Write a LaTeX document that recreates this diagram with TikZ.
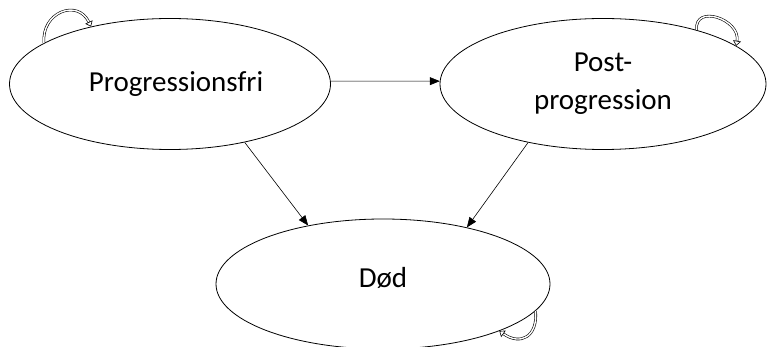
\documentclass[tikz,border=0pt]{standalone}
\usepackage{fontspec}
\setmainfont{Carlito}
\usetikzlibrary{shapes.geometric, arrows.meta, positioning}

\begin{document}
\begin{tikzpicture}[x=1pt, y=-1pt,
            st/.style={ellipse, draw=black, thick, inner sep=0pt, font=\fontsize{29}{38}\selectfont, align=center},
            ed/.style={draw=black, semithick, -{Triangle[length=10pt, width=8pt]}},
            lp/.style={draw=black, double=white, double distance=1.4pt, semithick, -{Triangle[open, length=5pt, width=8pt]}}]
            \useasboundingbox (0,0) rectangle (768,347);
            \node[st, minimum width=321, minimum height=131] (PF) at (170,84)  {\hspace*{12pt}Progressionsfri};
            \node[st, minimum width=326, minimum height=131] (PP) at (603,84)  {Post-\\progression};
            \node[st, minimum width=334, minimum height=130] (D)  at (383,284) {Død\\[-25pt]};
            \draw[ed] (PF.1) -- (PP.179);
            \draw[ed] (PF.-38) -- (D.142.6);
            \draw[ed] (PP.218) -- (D.34.6);
            \draw[lp] (PF.162) to[out=95, in=115, looseness=1.6] (PF.144.5);
            \draw[lp] (PP.30.8) to[out=95, in=80, looseness=1.6] (PP.16.5);
            \draw[lp] (D.-10.7) to[out=-85, in=-35, looseness=1.6] (D.-22.7);
        \end{tikzpicture}
\end{document}
